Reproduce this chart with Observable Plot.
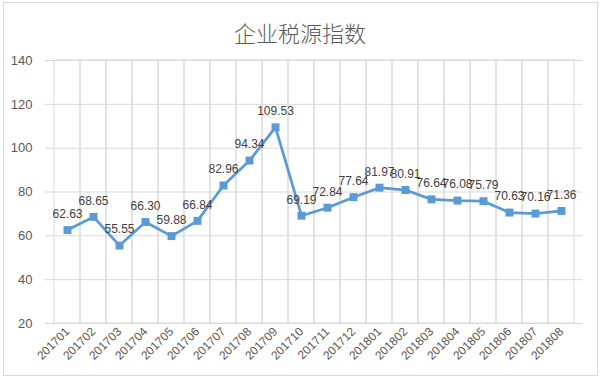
<!DOCTYPE html>
<html>
<head>
<meta charset="utf-8">
<script src="https://cdn.jsdelivr.net/npm/d3@7"></script>
<script src="https://cdn.jsdelivr.net/npm/@observablehq/plot@0.6"></script>
<style>
  body { margin: 0; background: #fff; }
  #wrap { position: relative; width: 600px; height: 380px; overflow: hidden; }
  #frame { position: absolute; left: 3px; top: 2px; width: 595px; height: 374px; border: 1px solid #d9d9d9; box-sizing: border-box; pointer-events: none; }
  #title { height: 48px; box-sizing: border-box; padding-top: 17px; line-height: 30px; text-align: center;
           font-family: "Noto Sans CJK SC", sans-serif; font-weight: 300; font-size: 22px; color: #595959; }
</style>
</head>
<body>
<div id="wrap">
  <div id="frame"></div>
  <div id="title">企业税源指数</div>
  <div id="chart"></div>
</div>
<script>
const months = ["201701","201702","201703","201704","201705","201706","201707","201708","201709","201710",
                "201711","201712","201801","201802","201803","201804","201805","201806","201807","201808"];
const values = [62.63, 68.65, 55.55, 66.30, 59.88, 66.84, 82.96, 94.34, 109.53, 69.19,
                72.84, 77.64, 81.97, 80.91, 76.64, 76.08, 75.79, 70.63, 70.16, 71.36];
const yTicks = [20, 40, 60, 80, 100, 120, 140];

const data = months.map((m, i) => ({month: m, value: values[i]}));
const blue = "#5B9BD5";
const grid = "#d9d9d9";

const chart = Plot.plot({
  width: 600,
  height: 332,
  marginTop: 12,
  marginBottom: 57,
  marginLeft: 45,
  marginRight: 18,
  style: {fontFamily: "'Liberation Sans', Arial, sans-serif", fontSize: "12px", color: "#595959", background: "transparent"},
  x: {type: "band", domain: months, padding: 0},
  y: {domain: [20, 140]},
  marks: [
    Plot.ruleY(yTicks, {stroke: grid, strokeWidth: 1}),
    Plot.barY(months, {x: d => d, y1: 20, y2: 140, fill: "none", stroke: grid, strokeWidth: 1}),
    Plot.axisY({ticks: yTicks, tickSize: 0, tickPadding: 13, fontSize: 13, label: null}),
    Plot.axisX({tickSize: 0, tickRotate: -45, tickPadding: 6, fontSize: 12, label: null}),
    Plot.line(data, {x: "month", y: "value", stroke: blue, strokeWidth: 2.75}),
    Plot.dot(data, {x: "month", y: "value", symbol: "square", r: 4.5, fill: blue, stroke: "none"}),
    Plot.text(data, {x: "month", y: "value", text: d => d.value.toFixed(2), dy: -16, fill: "#404040", fontSize: 12})
  ]
});
document.getElementById("chart").appendChild(chart);
</script>
</body>
</html>
